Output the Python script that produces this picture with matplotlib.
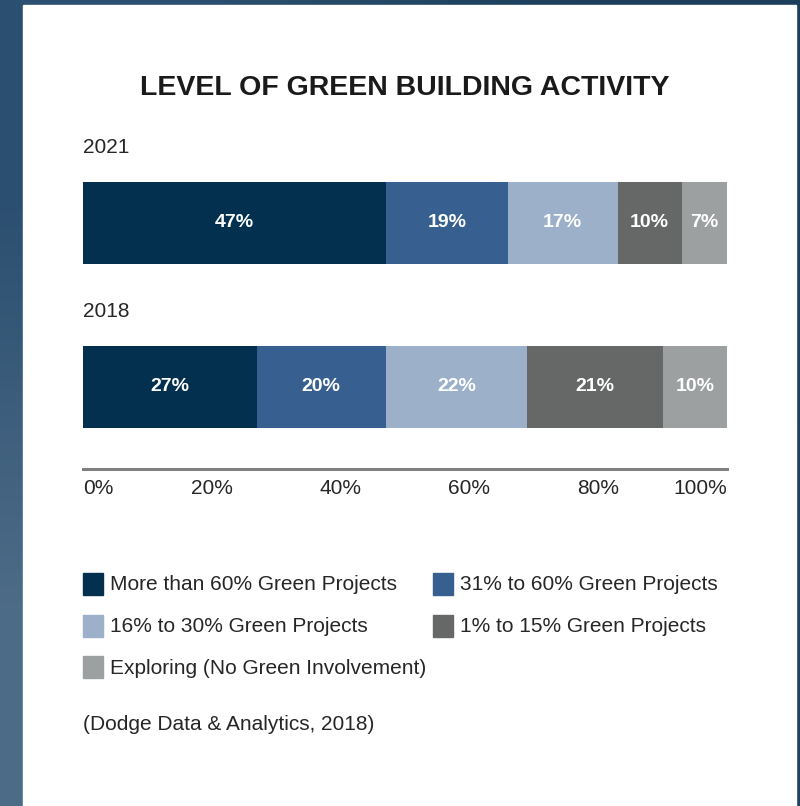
import matplotlib.pyplot as plt
import numpy as np
from matplotlib.patches import Rectangle

plt.rcParams['font.family'] = ['Liberation Sans', 'DejaVu Sans']

# data
years = ['2021', '2018']
categories = ['More than 60% Green Projects', '31% to 60% Green Projects',
              '16% to 30% Green Projects', '1% to 15% Green Projects',
              'Exploring (No Green Involvement)']
values_2021 = [47, 19, 17, 10, 7]
values_2018 = [27, 20, 22, 21, 10]
colors = ['#03304f', '#375f8f', '#9cb0ca', '#666868', '#9da0a1']
tick_vals = [0, 20, 40, 60, 80, 100]

W, H = 800, 806
fig = plt.figure(figsize=(W / 100, H / 100), dpi=100)

# background gradient + white panel
bg = fig.add_axes([0, 0, 1, 1])
grad = np.array([[[0.17, 0.31, 0.44], [0.11, 0.24, 0.36]],
                 [[0.30, 0.42, 0.53], [0.13, 0.26, 0.38]]])
bg.imshow(grad, aspect='auto', interpolation='bilinear', extent=[0, 1, 0, 1])
bg.add_patch(Rectangle((23 / W, 0), (796 - 23) / W, 1 - 5 / H,
                       transform=bg.transAxes, color='white'))
bg.set_xlim(0, 1)
bg.set_ylim(0, 1)
bg.axis('off')

def fx(px):
    return px / W

def fy(py):
    return 1 - py / H

txt = '#262626'
fig.text(fx(405), fy(88), 'LEVEL OF GREEN BUILDING ACTIVITY', ha='center', va='center',
         fontsize=20.5, fontweight='bold', color='#1a1a1a')

ax = fig.add_axes([fx(83), fy(469), fx(727) - fx(83), fy(140) - fy(469)])
ax.patch.set_alpha(0)
data = [values_2021, values_2018]
for i, vals in enumerate(data):
    left = 0
    for v, c in zip(vals, colors):
        ax.barh(i, v, left=left, height=0.5, color=c)
        ax.text(left + v / 2, i, f'{v}%', ha='center', va='center', color='white',
                fontsize=14, fontweight='bold')
        left += v
    ax.text(0, i - 0.46, years[i], ha='left', va='center', fontsize=15, color=txt)

ax.set_xlim(0, 100)
ax.set_ylim(1.5, -0.506)
ax.set_yticks([])
ax.set_xticks(tick_vals)
labels = ax.set_xticklabels([f'{t}%' for t in tick_vals], fontsize=15, color=txt)
labels[0].set_ha('left')
labels[-1].set_ha('right')
ax.tick_params(axis='x', length=0, pad=7)
for s in ['top', 'left', 'right']:
    ax.spines[s].set_visible(False)
ax.spines['bottom'].set_color('#808080')
ax.spines['bottom'].set_linewidth(2.2)

# legend
leg_pos = [(83, 584), (433, 584), (83, 626), (433, 626), (83, 667)]
for (px, py), c, lab in zip(leg_pos, colors, categories):
    bg.add_patch(Rectangle((fx(px), fy(py + 11)), 20 / W, 22 / H, color=c,
                           transform=bg.transAxes))
    fig.text(fx(px + 27), fy(py + 1), lab, ha='left', va='center', fontsize=15, color=txt)

fig.text(fx(83), fy(724), '(Dodge Data & Analytics, 2018)', ha='left', va='center',
         fontsize=15, color=txt)

plt.savefig('out.png', dpi=100)
